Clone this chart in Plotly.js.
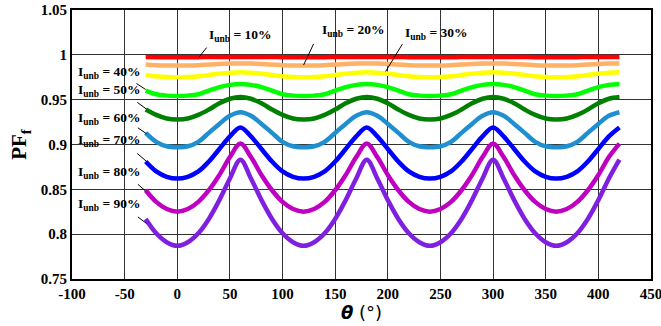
<!DOCTYPE html>
<html>
<head>
<meta charset="utf-8">
<script src="https://cdn.plot.ly/plotly-3.0.1.min.js"></script>
<style>html,body{margin:0;padding:0;background:#fff;}#chart{width:661px;height:326px;}</style>
</head>
<body>
<div id="chart"></div>
<script>
// theta (degrees)
const theta = [-30,-20,-10,0,10,20,30,40,50,60,70,80,90,100,110,120,130,140,150,160,170,180,190,200,210,220,230,240,250,260,270,280,290,300,310,320,330,340,350,360,370,380,390,400,410,420];

const seriesNames = ["I_unb = 10%","I_unb = 20%","I_unb = 30%","I_unb = 40%","I_unb = 50%","I_unb = 60%","I_unb = 70%","I_unb = 80%","I_unb = 90%"];
const seriesColors = ["#ff0000","#ffb266","#ffff00","#00ff00","#008000","#1f8fd0","#0000ff","#c000c0","#7f1fe0"];

const pf10 = [0.9975,0.9974,0.9973,0.9973,0.9973,0.9974,0.9975,0.9976,0.9977,0.9977,0.9977,0.9976,0.9975,0.9974,0.9973,0.9973,0.9973,0.9974,0.9975,0.9976,0.9977,0.9977,0.9977,0.9976,0.9975,0.9974,0.9973,0.9973,0.9973,0.9974,0.9975,0.9976,0.9977,0.9977,0.9977,0.9976,0.9975,0.9974,0.9973,0.9973,0.9973,0.9974,0.9975,0.9976,0.9977,0.9977];
const pf20 = [0.9892,0.9885,0.9881,0.988,0.9881,0.9885,0.9892,0.9898,0.9902,0.9904,0.9902,0.9898,0.9892,0.9885,0.9881,0.988,0.9881,0.9885,0.9892,0.9898,0.9902,0.9904,0.9902,0.9898,0.9892,0.9885,0.9881,0.988,0.9881,0.9885,0.9892,0.9898,0.9902,0.9904,0.9902,0.9898,0.9892,0.9885,0.9881,0.988,0.9881,0.9885,0.9892,0.9898,0.9902,0.9904];
const pf30 = [0.9775,0.976,0.9752,0.975,0.9752,0.976,0.9775,0.979,0.980,0.9805,0.980,0.979,0.9775,0.976,0.9752,0.975,0.9752,0.976,0.9775,0.979,0.980,0.9805,0.980,0.979,0.9775,0.976,0.9752,0.975,0.9752,0.976,0.9775,0.979,0.980,0.9805,0.980,0.979,0.9775,0.976,0.9752,0.975,0.9752,0.976,0.9775,0.979,0.980,0.9805];
const pf40 = [0.960,0.956,0.9545,0.954,0.9545,0.956,0.960,0.964,0.9665,0.9675,0.9665,0.964,0.960,0.956,0.9545,0.954,0.9545,0.956,0.960,0.964,0.9665,0.9675,0.9665,0.964,0.960,0.956,0.9545,0.954,0.9545,0.956,0.960,0.964,0.9665,0.9675,0.9665,0.964,0.960,0.956,0.9545,0.954,0.9545,0.956,0.960,0.964,0.9665,0.9675];
const pf50 = [0.939,0.933,0.929,0.928,0.929,0.933,0.939,0.946,0.951,0.953,0.951,0.946,0.939,0.933,0.929,0.928,0.929,0.933,0.939,0.946,0.951,0.953,0.951,0.946,0.939,0.933,0.929,0.928,0.929,0.933,0.939,0.946,0.951,0.953,0.951,0.946,0.939,0.933,0.929,0.928,0.929,0.933,0.939,0.946,0.951,0.953];
const pf60 = [0.913,0.903,0.898,0.897,0.898,0.903,0.913,0.923,0.932,0.936,0.932,0.923,0.913,0.903,0.898,0.897,0.898,0.903,0.913,0.923,0.932,0.936,0.932,0.923,0.913,0.903,0.898,0.897,0.898,0.903,0.913,0.923,0.932,0.936,0.932,0.923,0.913,0.903,0.898,0.897,0.898,0.903,0.913,0.923,0.932,0.936];
const pf70 = [0.881,0.870,0.864,0.862,0.864,0.870,0.881,0.895,0.909,0.919,0.909,0.895,0.881,0.870,0.864,0.862,0.864,0.870,0.881,0.895,0.909,0.919,0.909,0.895,0.881,0.870,0.864,0.862,0.864,0.870,0.881,0.895,0.909,0.919,0.909,0.895,0.881,0.870,0.864,0.862,0.864,0.870,0.881,0.895,0.909,0.919];
const pf80 = [0.849,0.836,0.828,0.825,0.828,0.836,0.849,0.866,0.886,0.901,0.886,0.866,0.849,0.836,0.828,0.825,0.828,0.836,0.849,0.866,0.886,0.901,0.886,0.866,0.849,0.836,0.828,0.825,0.828,0.836,0.849,0.866,0.886,0.901,0.886,0.866,0.849,0.836,0.828,0.825,0.828,0.836,0.849,0.866,0.886,0.901];
const pf90 = [0.817,0.801,0.791,0.787,0.791,0.801,0.817,0.838,0.862,0.883,0.862,0.838,0.817,0.801,0.791,0.787,0.791,0.801,0.817,0.838,0.862,0.883,0.862,0.838,0.817,0.801,0.791,0.787,0.791,0.801,0.817,0.838,0.862,0.883,0.862,0.838,0.817,0.801,0.791,0.787,0.791,0.801,0.817,0.838,0.862,0.883];

const allSeries = [pf10,pf20,pf30,pf40,pf50,pf60,pf70,pf80,pf90];

// Label text positions and leader-line targets (data coordinates)
const labelText = ["10%","20%","30%","40%","50%","60%","70%","80%","90%"];
const labelX = [27.8,136,214.7,-96,-96,-96,-96,-96,-96];
const labelY = [1.0215,1.027,1.0235,0.980,0.960,0.929,0.9044,0.869,0.833];
const leaderX0 = [27.9,129.5,213.8,-38.7,-38,-37.4,-38,-37.4,-37.4];
const leaderY0 = [1.0081,1.0122,1.0119,0.968,0.947,0.9186,0.890,0.8556,0.8192];
const leaderX1 = [20.2,120,197.9,-30.1,-29.5,-29.2,-29.5,-30,-29.2];
const leaderY1 = [0.9967,0.9886,0.9814,0.9614,0.9397,0.912,0.8814,0.848,0.8119];

const FONT = "Liberation Serif, Times New Roman, serif";

const traces = allSeries.map((ys, i) => ({
  x: theta, y: ys, type: 'scatter', mode: 'lines', name: seriesNames[i],
  line: {color: seriesColors[i], width: 4.5, shape: 'spline', smoothing: 1.0},
  hoverinfo: 'skip'
}));

const annotations = labelText.map((t, i) => ({
  x: labelX[i], y: labelY[i], xref: 'x', yref: 'y',
  xanchor: 'left', yanchor: 'middle', showarrow: false,
  text: '<b>I<sub>unb</sub> = ' + t + '</b>',
  font: {family: FONT, size: 13.5, color: '#000'}
}));

const shapes = labelText.map((t, i) => ({
  type: 'line', xref: 'x', yref: 'y',
  x0: leaderX0[i], y0: leaderY0[i], x1: leaderX1[i], y1: leaderY1[i],
  line: {color: '#000', width: 1}
}));

const layout = {
  width: 661, height: 326,
  margin: {l: 72, r: 10, t: 10, b: 47},
  paper_bgcolor: '#fff', plot_bgcolor: '#fff',
  showlegend: false,
  font: {family: FONT, color: '#000'},
  xaxis: {
    range: [-100, 450], tickvals: [-100,-50,0,50,100,150,200,250,300,350,400,450],
    ticktext: ['-100','-50','0','50','100','150','200','250','300','350','400','450'],
    showgrid: true, gridcolor: '#333', gridwidth: 1,
    showline: true, linecolor: '#000', linewidth: 2, mirror: true,
    zeroline: false, ticks: '', automargin: false, ticklabeloverflow: 'allow',
    tickfont: {family: FONT, size: 15, weight: 'bold', color: '#000'},
    title: {text: '<b><i>θ</i></b> (°)', font: {family: 'DejaVu Sans, sans-serif', size: 18, color: '#000'}, standoff: 4}
  },
  yaxis: {
    range: [0.75, 1.05], tickvals: [0.75,0.8,0.85,0.9,0.95,1,1.05],
    ticktext: ['0.75','0.8','0.85','0.9','0.95','1','1.05'],
    showgrid: true, gridcolor: '#333', gridwidth: 1,
    showline: true, linecolor: '#000', linewidth: 2, mirror: true,
    zeroline: false, ticks: '', automargin: false, ticklabeloverflow: 'allow',
    tickfont: {family: FONT, size: 15, weight: 'bold', color: '#000'},
    title: {text: '<b>PF<sub>f</sub></b>', font: {family: FONT, size: 21, color: '#000'}, standoff: 8}
  },
  annotations: annotations,
  shapes: shapes
};

Plotly.newPlot('chart', traces, layout, {staticPlot: true, displayModeBar: false});
</script>
</body>
</html>
